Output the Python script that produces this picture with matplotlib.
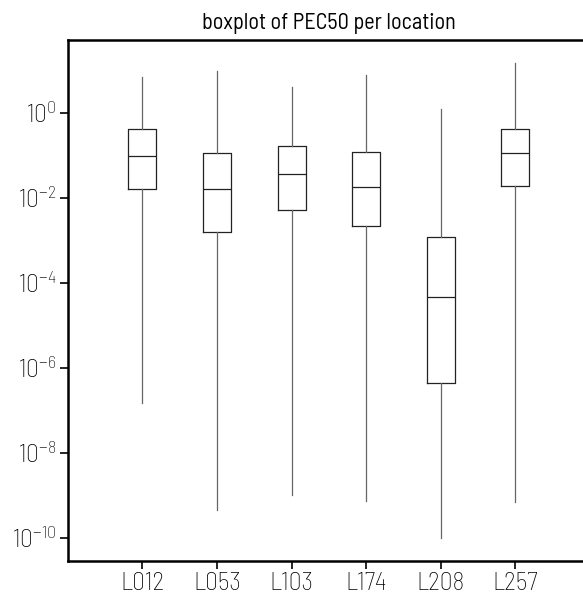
import numpy as np
import matplotlib
matplotlib.use('Agg')
import matplotlib.pyplot as plt
from matplotlib.ticker import FixedLocator, NullLocator

plt.rcParams['font.family'] = ['Barlow Semi Condensed', 'DejaVu Sans']
plt.rcParams['font.weight'] = 'light'
plt.rcParams['mathtext.fontset'] = 'custom'
plt.rcParams['mathtext.rm'] = 'Barlow Semi Condensed:weight=light'
plt.rcParams['mathtext.it'] = 'Barlow Semi Condensed:weight=light'
plt.rcParams['mathtext.default'] = 'regular'

# log10 of PEC50
locations = ['L012', 'L053', 'L103', 'L174', 'L208', 'L257']
whisker_low = [-6.84, -9.36, -8.99, -9.13, -10.0, -9.16]
q1 = [-1.80, -2.81, -2.30, -2.67, -6.37, -1.73]
median = [-1.03, -1.80, -1.45, -1.74, -4.34, -0.96]
q3 = [-0.39, -0.96, -0.79, -0.92, -2.92, -0.39]
whisker_high = [0.83, 0.98, 0.60, 0.89, 0.09, 1.17]


def main():
    stats = []
    for i, name in enumerate(locations):
        stats.append({
            'label': name,
            'whislo': 10 ** whisker_low[i],
            'q1': 10 ** q1[i],
            'med': 10 ** median[i],
            'q3': 10 ** q3[i],
            'whishi': 10 ** whisker_high[i],
            'fliers': [],
        })

    fig = plt.figure(figsize=(5.83, 5.94), dpi=100)
    W, H = 583, 594
    left, right, top, bottom = 67.7, 590, 40, 561
    ax = fig.add_axes([left / W, (H - bottom) / H, (right - left) / W, (bottom - top) / H])

    line = dict(color='#222222', linewidth=0.9)
    whisk = dict(color='#666666', linewidth=0.9)
    ax.bxp(stats, positions=range(1, 7), widths=0.375, showcaps=False,
           showfliers=False, boxprops=line, medianprops=line,
           whiskerprops=whisk)

    ax.set_yscale('log')
    ax.set_ylim(10 ** -10.55, 10 ** 1.711)
    ax.set_xlim(0, 7)
    ax.yaxis.set_major_locator(FixedLocator([10.0 ** k for k in range(-10, 1, 2)]))
    ax.yaxis.set_minor_locator(NullLocator())
    ax.set_yticklabels([r'$10^{%d}$' % k for k in range(-10, 1, 2)])
    ax.set_xticks(range(1, 7))
    ax.set_xticklabels(locations)

    for s in ['left', 'bottom', 'top']:
        ax.spines[s].set_linewidth(1.8)
    ax.spines['right'].set_visible(False)
    ax.tick_params(axis='both', length=6, width=1.2, labelsize=18.5, pad=2)
    ax.tick_params(axis='x', pad=2)

    ax.set_title('boxplot of PEC50 per location', fontsize=16, pad=8)

    fig.savefig('out.png', dpi=100)


if __name__ == '__main__':
    main()
